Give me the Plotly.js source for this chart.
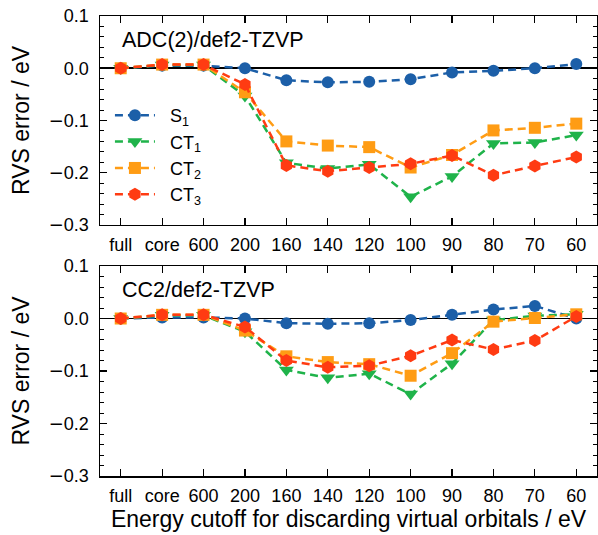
<!DOCTYPE html>
<html><head><meta charset="utf-8">
<script src="https://cdn.plot.ly/plotly-3.0.1.min.js"></script>
<style>body{margin:0;padding:0;background:#fff}#plot{width:598px;height:535px}</style>
</head><body><div id="plot"></div>
<script>
const categories = ["full","core","600","200","160","140","120","100","90","80","70","60"];
const seriesNames = ["S<sub>1</sub>","CT<sub>1</sub>","CT<sub>2</sub>","CT<sub>3</sub>"];
const yTickVals = [-0.3,-0.2,-0.1,0.0,0.1];
const yTickLabels = ["\u22120.3","\u22120.2","\u22120.1","0.0","0.1"];
// ADC(2)/def2-TZVP
const adcS1  = [0.0, 0.005, 0.005, 0.0, -0.023, -0.027, -0.026, -0.021, -0.008, -0.005, 0.0, 0.008];
const adcCT1 = [0.0, 0.006, 0.006, -0.053, -0.181, -0.192, -0.184, -0.246, -0.207, -0.144, -0.142, -0.128];
const adcCT2 = [0.0, 0.007, 0.007, -0.046, -0.140, -0.148, -0.151, -0.190, -0.166, -0.119, -0.114, -0.106];
const adcCT3 = [0.0, 0.007, 0.007, -0.031, -0.186, -0.197, -0.190, -0.183, -0.167, -0.205, -0.187, -0.170];
// CC2/def2-TZVP
const ccS1  = [0.0, 0.002, 0.002, 0.0, -0.009, -0.010, -0.009, -0.003, 0.007, 0.017, 0.024, 0.0];
const ccCT1 = [0.0, 0.006, 0.006, -0.025, -0.098, -0.113, -0.105, -0.144, -0.086, -0.003, 0.005, 0.008];
const ccCT2 = [0.0, 0.007, 0.007, -0.023, -0.072, -0.083, -0.087, -0.109, -0.066, -0.006, 0.001, 0.008];
const ccCT3 = [0.0, 0.007, 0.007, -0.016, -0.080, -0.093, -0.090, -0.071, -0.041, -0.059, -0.042, 0.004];
const panelTitles = ["ADC(2)/def2-TZVP","CC2/def2-TZVP"];

const colors = ["#1c5fa8","#1fb34a","#ff9c14","#ff3b12"];
const symbols = ["circle","triangle-down","square","hexagon"];
const sizes = [12,13,12,13];
const FONT = 'Liberation Sans, Arial, sans-serif';

const traces = [];
[[adcS1,adcCT1,adcCT2,adcCT3],[ccS1,ccCT1,ccCT2,ccCT3]].forEach((set,p)=>{
  set.forEach((vals,i)=>{
    traces.push({
      x: categories, y: vals, type:'scatter', mode:'lines+markers',
      name: '\u00a0\u00a0' + seriesNames[i], showlegend: p===0, legendgroup:'g'+i,
      xaxis: p===0 ? 'x2' : 'x', yaxis: p===0 ? 'y2' : 'y',
      line:{color:colors[i], width:2.5, dash:'8px,5px'},
      marker:{color:colors[i], symbol:symbols[i], size:sizes[i]}
    });
  });
});

const tickFont = {family:FONT, size:18, color:'#000'};
function xax(anchor){
  return {type:'category', categoryorder:'array', categoryarray:categories,
    range:[-0.5,11.5], anchor:anchor, showline:true, linecolor:'#000', linewidth:1.5,
    mirror:'allticks', ticks:'inside', ticklen:7, tickwidth:1.2, tickcolor:'#000',
    showgrid:false, zeroline:false, tickfont:tickFont, ticklabelstandoff:3};
}
function yax(anchor, domain){
  return {domain:domain, anchor:anchor, range:[-0.3,0.1], tickvals:yTickVals,
    ticktext:yTickLabels.map(t=>t.replace('\u2212',"<span style='font-family:DejaVu Sans'>\u2212</span>")),
    showline:true, linecolor:'#000', linewidth:1.5, mirror:'allticks',
    ticks:'inside', ticklen:7, tickwidth:1.2, tickcolor:'#000',
    minor:{dtick:0.02, tick0:0, ticks:'inside', ticklen:4, tickwidth:1, tickcolor:'#000'},
    showgrid:false, zeroline:true, zerolinecolor:'#000', zerolinewidth:1.5,
    tickfont:tickFont, ticklabelstandoff:6,
    title:{text:'RVS error / eV', font:{family:FONT, size:23, color:'#000'}, standoff:12}};
}

const layout = {
  width:598, height:535,
  margin:{l:100, r:1, t:16, b:59},
  paper_bgcolor:'#fff', plot_bgcolor:'#fff',
  font:{family:FONT, color:'#000'},
  xaxis: Object.assign(xax('y'), {title:{text:'Energy cutoff for discarding virtual orbitals / eV',
     font:{family:FONT, size:23, color:'#000'}, standoff:6}}),
  xaxis2: xax('y2'),
  yaxis: yax('x',[0,0.4565]),
  yaxis2: yax('x2',[0.5457,1]),
  legend:{x:0.02, y:0.824, xanchor:'left', yanchor:'top', bgcolor:'rgba(0,0,0,0)',
    font:{family:FONT, size:18, color:'#000'}, tracegroupgap:0, itemwidth:40},
  annotations:[
    {text:panelTitles[0], xref:'x2 domain', yref:'y2 domain', x:0.04, y:0.885, xanchor:'left', yanchor:'middle', showarrow:false,
     font:{family:FONT, size:21.5, color:'#000'}},
    {text:panelTitles[1], xref:'x domain', yref:'y domain', x:0.04, y:0.885, xanchor:'left', yanchor:'middle', showarrow:false,
     font:{family:FONT, size:21.5, color:'#000'}}
  ]
};
Plotly.newPlot('plot', traces, layout, {displayModeBar:false, staticPlot:true});
</script></body></html>
